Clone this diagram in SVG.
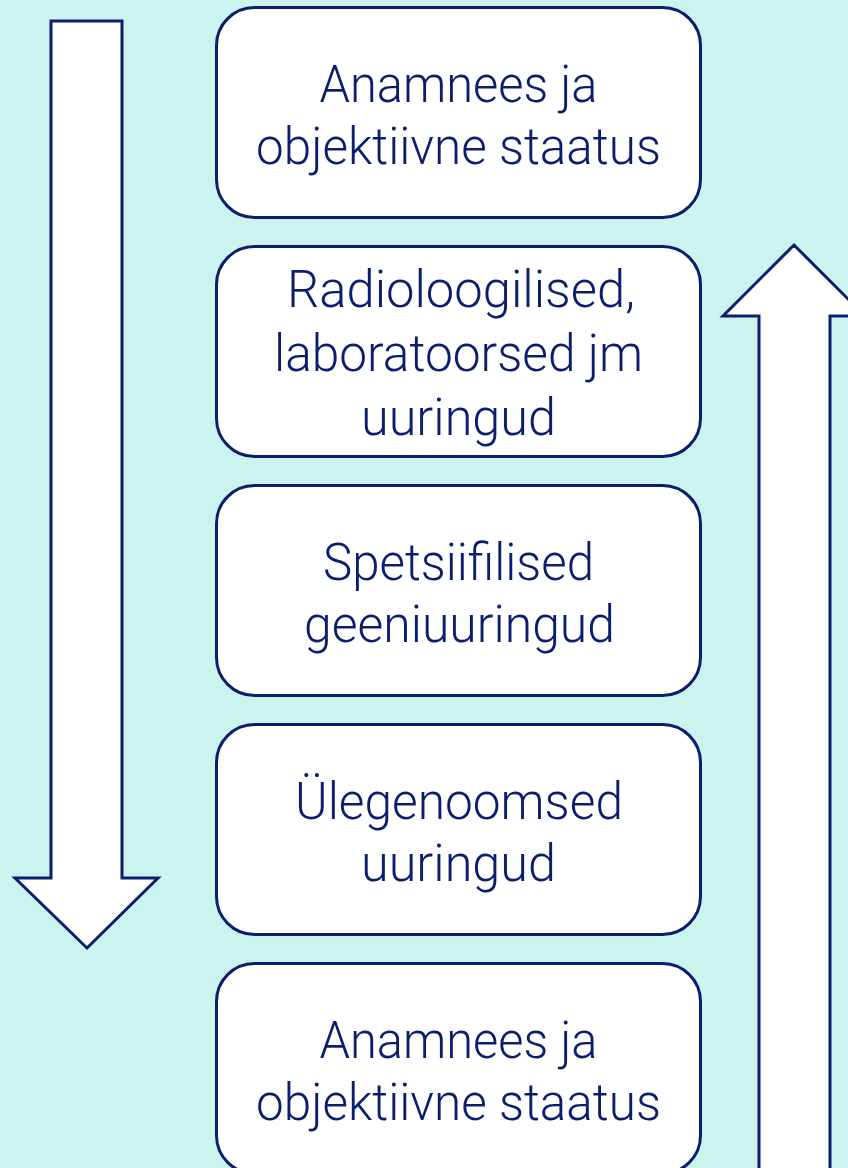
<svg xmlns="http://www.w3.org/2000/svg" width="848" height="1168" viewBox="0 0 848 1168">
<style>
.box{fill:#ffffff;stroke:#0b1e6e;stroke-width:3}
.arrow{fill:#ffffff;stroke:#0b1e6e;stroke-width:3;stroke-linejoin:miter}
.lbl{font-family:Roboto,"Liberation Sans",sans-serif;font-weight:300;font-size:52px;fill:#0b1e6e;text-anchor:middle}
</style>
<rect x="0" y="0" width="848" height="1168" fill="#ccf4ef"/>
<g id="connectors">
<polygon class="arrow" points="51,21 122,21 122,878 158,878 87,948 15,878 51,878"/>
<polygon class="arrow" points="759,1185 759,316 723,316 794,245 865,316 830,316 830,1185"/>
</g>
<g id="node1">
<rect class="box" x="216.5" y="7.5" width="484" height="210" rx="38"/>
<text class="lbl"><tspan x="458.5" y="102" textLength="278" lengthAdjust="spacingAndGlyphs">Anamnees ja</tspan><tspan x="458.5" y="164" textLength="405" lengthAdjust="spacingAndGlyphs">objektiivne staatus</tspan></text>
</g>
<g id="node2">
<rect class="box" x="216.5" y="246.5" width="484" height="210" rx="38"/>
<text class="lbl"><tspan x="461" y="307" textLength="348" lengthAdjust="spacingAndGlyphs">Radioloogilised,</tspan><tspan x="458.5" y="371" textLength="369" lengthAdjust="spacingAndGlyphs">laboratoorsed jm</tspan><tspan x="458.5" y="435" textLength="195" lengthAdjust="spacingAndGlyphs">uuringud</tspan></text>
</g>
<g id="node3">
<rect class="box" x="216.5" y="485.5" width="484" height="210" rx="38"/>
<text class="lbl"><tspan x="458.5" y="580" textLength="271" lengthAdjust="spacingAndGlyphs">Spetsiifilised</tspan><tspan x="459.5" y="642" textLength="311" lengthAdjust="spacingAndGlyphs">geeniuuringud</tspan></text>
</g>
<g id="node4">
<rect class="box" x="216.5" y="724.5" width="484" height="210" rx="38"/>
<text class="lbl"><tspan x="459" y="819" textLength="328" lengthAdjust="spacingAndGlyphs">Ülegenoomsed</tspan><tspan x="458.5" y="881" textLength="195" lengthAdjust="spacingAndGlyphs">uuringud</tspan></text>
</g>
<g id="node5">
<rect class="box" x="216.5" y="963.5" width="484" height="210" rx="38"/>
<text class="lbl"><tspan x="458.5" y="1058" textLength="278" lengthAdjust="spacingAndGlyphs">Anamnees ja</tspan><tspan x="458.5" y="1120" textLength="405" lengthAdjust="spacingAndGlyphs">objektiivne staatus</tspan></text>
</g>
</svg>
